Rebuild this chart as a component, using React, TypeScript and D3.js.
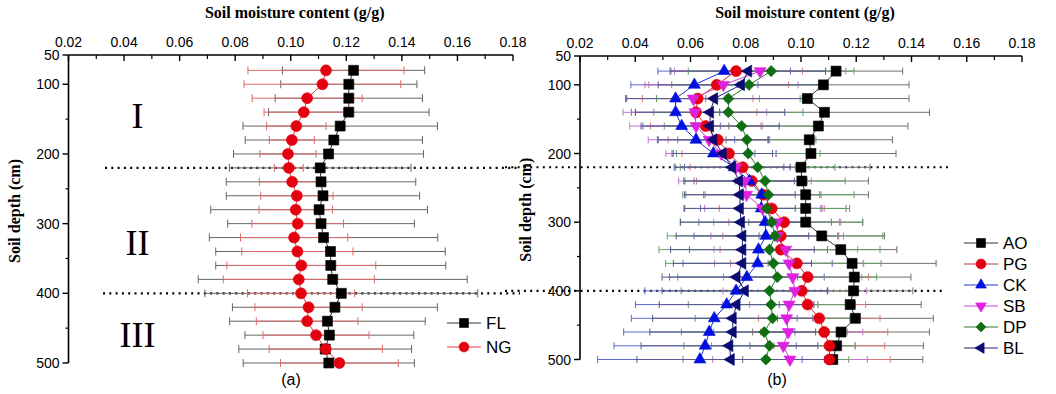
import React from 'react';
import * as d3 from 'd3';

// ---------- data ----------
const depths = [80, 100, 120, 140, 160, 180, 200, 220, 240, 260, 280, 300, 320, 340, 360, 380, 400, 420, 440, 460, 480, 500];

const xTickValues = [0.02, 0.04, 0.06, 0.08, 0.1, 0.12, 0.14, 0.16, 0.18];
const xTickLabels = ['0.02', '0.04', '0.06', '0.08', '0.10', '0.12', '0.14', '0.16', '0.18'];
const xMinorTicks = [0.03, 0.05, 0.07, 0.09, 0.11, 0.13, 0.15, 0.17];
const yTickValues = [100, 200, 300, 400, 500];
const yTickLabels = ['100', '200', '300', '400', '500'];
const yTopLabel = '50';
const yMinorTicks = [150, 250, 350, 450];
const zoneBreaks = [220, 400];
const zoneLabels = ['I', 'II', 'III'];

// panel (a)
const FL = [0.1226, 0.1209, 0.1209, 0.1209, 0.1178, 0.1155, 0.1136, 0.1106, 0.1109, 0.1116, 0.1102, 0.1109, 0.1118, 0.1143, 0.1144, 0.1151, 0.1182, 0.1159, 0.1132, 0.1139, 0.1124, 0.1137];
const FL_sd = [0.0256, 0.0245, 0.0265, 0.0289, 0.035, 0.0319, 0.0342, 0.0327, 0.0341, 0.0348, 0.039, 0.0336, 0.0411, 0.0413, 0.0414, 0.0484, 0.0491, 0.0369, 0.0352, 0.0304, 0.0311, 0.0308];
const NG = [0.1127, 0.1114, 0.1059, 0.1047, 0.102, 0.1004, 0.099, 0.0993, 0.1005, 0.1022, 0.1018, 0.1025, 0.1012, 0.1024, 0.1038, 0.1029, 0.1037, 0.1064, 0.1059, 0.1091, 0.1126, 0.1175];
const NG_sd = [0.0281, 0.0282, 0.0198, 0.0143, 0.0107, 0.0081, 0.0101, 0.0052, 0.0118, 0.013, 0.0132, 0.0165, 0.0193, 0.02, 0.0268, 0.0272, 0.0193, 0.0193, 0.0183, 0.0191, 0.0204, 0.0212];

// panel (b)
const AO = [0.1127, 0.1081, 0.1023, 0.1085, 0.1063, 0.103, 0.1036, 0.1, 0.1003, 0.1017, 0.1017, 0.1017, 0.1075, 0.1144, 0.1185, 0.1193, 0.119, 0.1178, 0.1197, 0.1145, 0.1129, 0.1115];
const AO_sd = [0.0241, 0.031, 0.0368, 0.038, 0.0324, 0.0301, 0.0308, 0.025, 0.0241, 0.0227, 0.0146, 0.0206, 0.0227, 0.0203, 0.0304, 0.0205, 0.0215, 0.0257, 0.0282, 0.032, 0.0314, 0.0326];
const PG = [0.0765, 0.0695, 0.0626, 0.062, 0.0655, 0.0699, 0.0739, 0.0789, 0.0822, 0.0863, 0.0894, 0.0939, 0.0927, 0.0927, 0.0985, 0.1024, 0.1003, 0.1024, 0.1066, 0.1084, 0.1103, 0.1103];
const PG_sd = [0.024, 0.026, 0.02, 0.022, 0.02, 0.018, 0.017, 0.019, 0.02, 0.021, 0.019, 0.02, 0.021, 0.022, 0.024, 0.022, 0.02, 0.021, 0.022, 0.023, 0.02, 0.022];
const CK = [0.0722, 0.0614, 0.0546, 0.0546, 0.0568, 0.062, 0.0683, 0.0758, 0.0813, 0.0858, 0.0856, 0.087, 0.0873, 0.0846, 0.0843, 0.0804, 0.0765, 0.0731, 0.0686, 0.0668, 0.0653, 0.0634];
const CK_sd = [0.024, 0.023, 0.018, 0.016, 0.014, 0.014, 0.015, 0.018, 0.02, 0.021, 0.022, 0.024, 0.026, 0.025, 0.027, 0.028, 0.033, 0.033, 0.03, 0.031, 0.033, 0.037];
const SB = [0.0852, 0.0719, 0.061, 0.0616, 0.062, 0.0667, 0.0711, 0.0765, 0.0797, 0.0803, 0.0861, 0.0914, 0.0914, 0.0945, 0.0957, 0.097, 0.0978, 0.0957, 0.0948, 0.0954, 0.0936, 0.096];
const SB_sd = [0.031, 0.027, 0.024, 0.026, 0.024, 0.022, 0.02, 0.022, 0.024, 0.022, 0.021, 0.023, 0.024, 0.026, 0.027, 0.025, 0.026, 0.024, 0.025, 0.027, 0.026, 0.028];
const DP = [0.0892, 0.0812, 0.0737, 0.0737, 0.0785, 0.0804, 0.0809, 0.0843, 0.087, 0.0882, 0.0876, 0.0894, 0.0906, 0.0886, 0.09, 0.0914, 0.0886, 0.0892, 0.0897, 0.0867, 0.0886, 0.0873];
const DP_sd = [0.03, 0.028, 0.026, 0.027, 0.028, 0.025, 0.026, 0.028, 0.029, 0.031, 0.03, 0.033, 0.039, 0.04, 0.039, 0.036, 0.032, 0.03, 0.028, 0.03, 0.031, 0.03];
const BL = [0.0809, 0.0783, 0.0686, 0.0671, 0.0671, 0.0683, 0.0717, 0.0751, 0.0776, 0.0779, 0.0779, 0.0783, 0.0788, 0.0788, 0.0788, 0.0767, 0.0797, 0.0767, 0.0753, 0.0753, 0.0741, 0.0746];
const BL_sd = [0.028, 0.03, 0.032, 0.027, 0.025, 0.02, 0.018, 0.021, 0.02, 0.02, 0.02, 0.022, 0.024, 0.026, 0.025, 0.027, 0.03, 0.028, 0.029, 0.03, 0.032, 0.034];

type Shape = 'square' | 'circle' | 'up' | 'down' | 'diamond' | 'left';
interface Series { name: string; values: number[]; sd: number[]; color: string; line: string; bar: string; shape: Shape; }

const seriesA: Series[] = [
  { name: 'FL', values: FL, sd: FL_sd, color: '#000000', line: '#333333', bar: '#666666', shape: 'square' },
  { name: 'NG', values: NG, sd: NG_sd, color: '#e3000f', line: '#d84040', bar: '#e06868', shape: 'circle' },
];
const seriesB: Series[] = [
  { name: 'AO', values: AO, sd: AO_sd, color: '#000000', line: '#333333', bar: '#707070', shape: 'square' },
  { name: 'PG', values: PG, sd: PG_sd, color: '#e3000f', line: '#d03030', bar: '#e07878', shape: 'circle' },
  { name: 'CK', values: CK, sd: CK_sd, color: '#0010e0', line: '#2030d0', bar: '#6068d0', shape: 'up' },
  { name: 'SB', values: SB, sd: SB_sd, color: '#e020e0', line: '#d040d0', bar: '#c078d0', shape: 'down' },
  { name: 'DP', values: DP, sd: DP_sd, color: '#0f6e12', line: '#2a7a2a', bar: '#60a060', shape: 'diamond' },
  { name: 'BL', values: BL, sd: BL_sd, color: '#0a0a70', line: '#202070', bar: '#585890', shape: 'left' },
];

const SANS = 'Liberation Sans, Arial, sans-serif';
const SERIF = 'Liberation Serif, Times New Roman, serif';

function Marker({ shape, x, y, color, s }: { shape: Shape; x: number; y: number; color: string; s: number }) {
  const sym = shape === 'square' ? d3.symbolSquare : shape === 'circle' ? d3.symbolCircle : shape === 'diamond' ? d3.symbolSquare : d3.symbolTriangle;
  let size = s * s;
  let rot = 0;
  if (shape === 'circle') size = Math.PI * (s * 0.55) * (s * 0.55);
  if (shape === 'diamond') { size = s * s * 0.62; rot = 45; }
  if (shape === 'up' || shape === 'down' || shape === 'left') size = s * s * 0.62;
  if (shape === 'down') rot = 180;
  if (shape === 'left') rot = -90;
  const d = d3.symbol().type(sym).size(size)() as string;
  return <path d={d} transform={`translate(${x},${y}) rotate(${rot})`} fill={color} stroke={color} strokeWidth={0.6} />;
}

interface PanelProps {
  series: Series[]; xr: [number, number]; yr: [number, number];
  title: string; tag: string; tagX: number; zoneX: [number, number][]; numerals: boolean;
  legendX: number; legendY: number; legendGap: number; markerSize: number; capH: number;
}

function Panel(p: PanelProps) {
  const x = d3.scaleLinear().domain([0.02, 0.18]).range(p.xr);
  const y = d3.scaleLinear().domain([58, 500]).range(p.yr);
  const [x0, x1] = p.xr;
  const [y0, y1] = p.yr;
  const xc = (x0 + x1) / 2;
  const lineGen = d3.line<number>().x((v) => x(v)).y((_, i) => y(depths[i]));
  const numeralDepths = [163, 345, 477];
  return (
    <g>
      <text x={xc + 4} y={18} textAnchor="middle" fontFamily={SERIF} fontWeight="bold" fontSize={16}>{p.title}</text>
      <text transform={`translate(${x0 - 49},${(y0 + y1) / 2 + 2}) rotate(-90)`} textAnchor="middle" fontFamily={SERIF} fontWeight="bold" fontSize={16}>Soil depth (cm)</text>
      <line x1={x0} x2={x1} y1={y0} y2={y0} stroke="#000" strokeWidth={1.6} />
      <line x1={x0} x2={x0} y1={y0} y2={y1} stroke="#000" strokeWidth={1.6} />
      {xTickValues.map((t, i) => (
        <g key={'xt' + i}>
          <line x1={x(t)} x2={x(t)} y1={y0} y2={y0 + 6} stroke="#000" strokeWidth={1.4} />
          <text x={x(t)} y={y0 - 8} textAnchor="middle" fontFamily={SANS} fontSize={14}>{xTickLabels[i]}</text>
        </g>
      ))}
      {xMinorTicks.map((t, i) => (
        <line key={'xm' + i} x1={x(t)} x2={x(t)} y1={y0} y2={y0 + 4} stroke="#000" strokeWidth={1.2} />
      ))}
      <line x1={x0} x2={x0 - 6} y1={y0} y2={y0} stroke="#000" strokeWidth={1.4} />
      <text x={x0 - 9} y={y0 + 5} textAnchor="end" fontFamily={SANS} fontSize={14}>{yTopLabel}</text>
      {yTickValues.map((t, i) => (
        <g key={'yt' + i}>
          <line x1={x0} x2={x0 - 6} y1={y(t)} y2={y(t)} stroke="#000" strokeWidth={1.4} />
          <text x={x0 - 9} y={y(t) + 5} textAnchor="end" fontFamily={SANS} fontSize={14}>{yTickLabels[i]}</text>
        </g>
      ))}
      {yMinorTicks.map((t, i) => (
        <line key={'ym' + i} x1={x0} x2={x0 - 3} y1={y(t)} y2={y(t)} stroke="#000" strokeWidth={1.2} />
      ))}
      {zoneBreaks.map((b, i) => (
        <line key={'z' + i} x1={p.zoneX[i][0]} x2={p.zoneX[i][1]} y1={y(b)} y2={y(b)} stroke="#000" strokeWidth={2.2} strokeDasharray="2,4.3" />
      ))}
      {p.numerals && (
        <g fontFamily={SERIF} fontSize={36} textAnchor="middle">
          {zoneLabels.map((z, i) => (
            <text key={z} x={137.5} y={y(numeralDepths[i])}>{z}</text>
          ))}
        </g>
      )}
      {p.series.map((s) => (
        <g key={'eb' + s.name} stroke={s.bar} strokeWidth={1}>
          {s.values.map((v, i) => {
            const yy = y(depths[i]);
            const a = x(v - s.sd[i]);
            const b = x(v + s.sd[i]);
            return (
              <g key={i}>
                <line x1={a} x2={b} y1={yy} y2={yy} />
                <line x1={a} x2={a} y1={yy - p.capH} y2={yy + p.capH} />
                <line x1={b} x2={b} y1={yy - p.capH} y2={yy + p.capH} />
              </g>
            );
          })}
        </g>
      ))}
      {p.series.map((s) => (
        <path key={'ln' + s.name} d={lineGen(s.values) as string} fill="none" stroke={s.line} strokeWidth={1} />
      ))}
      {p.series.map((s) => (
        <g key={'mk' + s.name}>
          {s.values.map((v, i) => (
            <Marker key={i} shape={s.shape} x={x(v)} y={y(depths[i])} color={s.color} s={p.markerSize} />
          ))}
        </g>
      ))}
      {p.series.map((s, i) => {
        const ly = p.legendY + i * p.legendGap;
        return (
          <g key={'lg' + s.name}>
            <line x1={p.legendX} x2={p.legendX + 34} y1={ly} y2={ly} stroke={s.line} strokeWidth={1} />
            <Marker shape={s.shape} x={p.legendX + 17} y={ly} color={s.color} s={p.markerSize - 1} />
            <text x={p.legendX + 39} y={ly + 6} fontFamily={SANS} fontSize={17}>{s.name}</text>
          </g>
        );
      })}
      <text x={p.tagX} y={385} textAnchor="middle" fontFamily={SANS} fontSize={16}>{p.tag}</text>
    </g>
  );
}

export default function App() {
  return (
    <svg width={1056} height={394} style={{ position: 'absolute', left: 0, top: 0, background: '#fff' }}>
      <rect width={1056} height={394} fill="#fff" />
      <Panel series={seriesA} xr={[68.5, 513]} yr={[55, 363]} title="Soil moisture content (g/g)" tag="(a)" tagX={291}
        zoneX={[[105, 520], [103, 520]]} numerals={true} legendX={447} legendY={323} legendGap={24} markerSize={10} capH={4} />
      <Panel series={seriesB} xr={[580, 1022]} yr={[56, 359.5]} title="Soil moisture content (g/g)" tag="(b)" tagX={777}
        zoneX={[[505, 948], [505, 946]]} numerals={false} legendX={964} legendY={243} legendGap={21} markerSize={10} capH={3.5} />
    </svg>
  );
}
